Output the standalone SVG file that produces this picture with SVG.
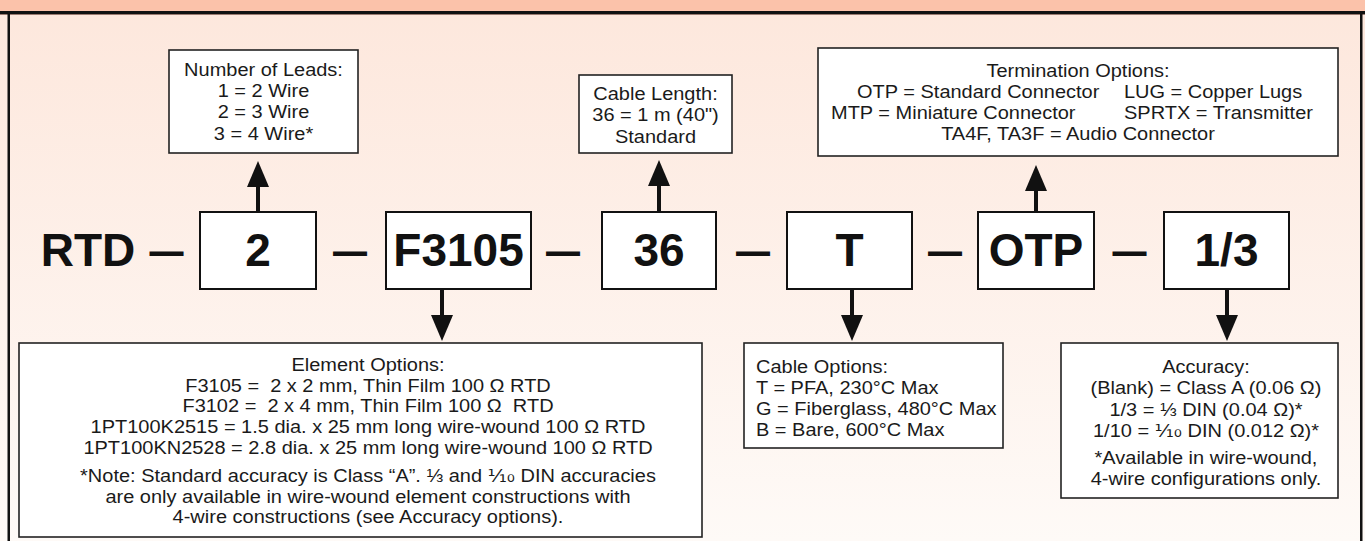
<svg xmlns="http://www.w3.org/2000/svg" width="1365" height="541" viewBox="0 0 1365 541">
<defs>
<linearGradient id="bg" x1="0" y1="0" x2="0" y2="1">
<stop offset="0" stop-color="#FDE7DC"/>
<stop offset="1" stop-color="#FEFAF7"/>
</linearGradient>
<marker id="ah" viewBox="0 0 26 22" refX="20" refY="11" markerWidth="26" markerHeight="22" markerUnits="userSpaceOnUse" orient="auto">
<path d="M0,0 L26,11 L0,22 Z" fill="#111"/>
</marker>
<style>
.big{font-family:"Liberation Sans","Arial",sans-serif;font-weight:bold;font-size:46px;fill:#111;text-anchor:middle}
.s{font-family:"Liberation Sans","DejaVu Sans",sans-serif;font-size:18.5px;fill:#1a1a1a;white-space:pre}
.m{text-anchor:middle}
.box{fill:#fff;stroke:#222;stroke-width:1.6}
.mbox{fill:#fff;stroke:#111;stroke-width:2}
.conn{stroke:#111;stroke-width:4;fill:none;marker-end:url(#ah)}
</style>
</defs>
<rect x="0" y="0" width="1365" height="541" fill="url(#bg)"/>
<rect x="0" y="0" width="1365" height="11" fill="#FBC2AA"/>
<rect x="0" y="11" width="1365" height="3" fill="#111"/>
<rect x="0" y="14" width="1365" height="1" fill="#9a7a70"/>
<rect x="7.5" y="11" width="2.5" height="530" fill="#111"/>
<rect x="1360" y="11" width="2.5" height="530" fill="#111"/>

<g id="connectors">
<line class="conn" x1="258" y1="212" x2="258" y2="167"/>
<line class="conn" x1="659" y1="212" x2="659" y2="166"/>
<line class="conn" x1="1036" y1="212" x2="1036" y2="171"/>
<line class="conn" x1="442" y1="289" x2="442" y2="335"/>
<line class="conn" x1="852" y1="289" x2="852" y2="335"/>
<line class="conn" x1="1227" y1="289" x2="1227" y2="335"/>
</g>

<g id="code-row">
<text class="big" x="88" y="266">RTD</text>
<text class="big" x="166.5" y="266" textLength="34" lengthAdjust="spacingAndGlyphs">—</text>
<text class="big" x="350" y="266" textLength="34" lengthAdjust="spacingAndGlyphs">—</text>
<text class="big" x="563" y="266" textLength="34" lengthAdjust="spacingAndGlyphs">—</text>
<text class="big" x="753" y="266" textLength="34" lengthAdjust="spacingAndGlyphs">—</text>
<text class="big" x="945" y="266" textLength="34" lengthAdjust="spacingAndGlyphs">—</text>
<text class="big" x="1129.5" y="266" textLength="34" lengthAdjust="spacingAndGlyphs">—</text>
</g>

<g id="node-leads-code">
<rect class="mbox" x="200" y="212" width="116" height="77"/>
<text class="big" x="258" y="266">2</text>
</g>
<g id="node-element-code">
<rect class="mbox" x="386" y="212" width="145" height="77"/>
<text class="big" x="458.5" y="266">F3105</text>
</g>
<g id="node-length-code">
<rect class="mbox" x="602" y="212" width="114" height="77"/>
<text class="big" x="659" y="266">36</text>
</g>
<g id="node-cable-code">
<rect class="mbox" x="787" y="212" width="125" height="77"/>
<text class="big" x="849.5" y="266">T</text>
</g>
<g id="node-termination-code">
<rect class="mbox" x="978" y="212" width="116" height="77"/>
<text class="big" x="1036" y="266">OTP</text>
</g>
<g id="node-accuracy-code">
<rect class="mbox" x="1164" y="212" width="125" height="77"/>
<text class="big" x="1226.5" y="266">1/3</text>
</g>

<g id="node-leads">
<rect class="box" x="169" y="50" width="189" height="103"/>
<g transform="translate(263.5 0) scale(1.08 1)">
<text class="s m" x="0" y="76">Number of Leads:</text>
<text class="s m" x="0" y="97.5">1 = 2 Wire</text>
<text class="s m" x="0" y="118.5">2 = 3 Wire</text>
<text class="s m" x="0" y="140">3 = 4 Wire*</text>
</g>
</g>

<g id="node-length">
<rect class="box" x="579" y="75" width="153" height="78"/>
<g transform="translate(655.5 0) scale(1.08 1)">
<text class="s m" x="0" y="100">Cable Length:</text>
<text class="s m" x="0" y="121.5">36 = 1 m (40")</text>
<text class="s m" x="0" y="143">Standard</text>
</g>
</g>

<g id="node-termination">
<rect class="box" x="818" y="48" width="520" height="108"/>
<g transform="translate(1078 0) scale(1.08 1)">
<text class="s m" x="0" y="77">Termination Options:</text>
<text class="s" x="-204.6" y="98">OTP = Standard Connector</text>
<text class="s" x="42.6" y="98">LUG = Copper Lugs</text>
<text class="s" x="-228.7" y="119">MTP = Miniature Connector</text>
<text class="s" x="42.6" y="119">SPRTX = Transmitter</text>
<text class="s m" x="0" y="140">TA4F, TA3F = Audio Connector</text>
</g>
</g>

<g id="node-element">
<rect class="box" x="19" y="343" width="683" height="194"/>
<g transform="translate(368 0) scale(1.08 1)">
<text class="s m" x="0" y="371">Element Options:</text>
<text class="s m" x="0" y="392">F3105 =  2 x 2 mm, Thin Film 100 Ω RTD</text>
<text class="s m" x="0" y="412.5">F3102 =  2 x 4 mm, Thin Film 100 Ω  RTD</text>
<text class="s m" x="0" y="433.5">1PT100K2515 = 1.5 dia. x 25 mm long wire-wound 100 Ω RTD</text>
<text class="s m" x="0" y="454">1PT100KN2528 = 2.8 dia. x 25 mm long wire-wound 100 Ω RTD</text>
<text class="s m" x="0" y="482.5">*Note: Standard accuracy is Class “A”. ⅓ and ⅒ DIN accuracies</text>
<text class="s m" x="0" y="503">are only available in wire-wound element constructions with</text>
<text class="s m" x="0" y="523.5">4-wire constructions (see Accuracy options).</text>
</g>
</g>

<g id="node-cable">
<rect class="box" x="744" y="343" width="259" height="105"/>
<g transform="translate(756 0) scale(1.08 1)">
<text class="s" x="0" y="373">Cable Options:</text>
<text class="s" x="0" y="394">T = PFA, 230°C Max</text>
<text class="s" x="0" y="415">G = Fiberglass, 480°C Max</text>
<text class="s" x="0" y="436">B = Bare, 600°C Max</text>
</g>
</g>

<g id="node-accuracy">
<rect class="box" x="1061" y="343" width="277" height="155"/>
<g transform="translate(1206 0) scale(1.08 1)">
<text class="s m" x="0" y="373">Accuracy:</text>
<text class="s m" x="0" y="394">(Blank) = Class A (0.06 Ω)</text>
<text class="s m" x="0" y="416">1/3 = ⅓ DIN (0.04 Ω)*</text>
<text class="s m" x="0" y="437">1/10 = ⅒ DIN (0.012 Ω)*</text>
<text class="s m" x="0" y="464">*Available in wire-wound,</text>
<text class="s m" x="0" y="485">4-wire configurations only.</text>
</g>
</g>
</svg>
